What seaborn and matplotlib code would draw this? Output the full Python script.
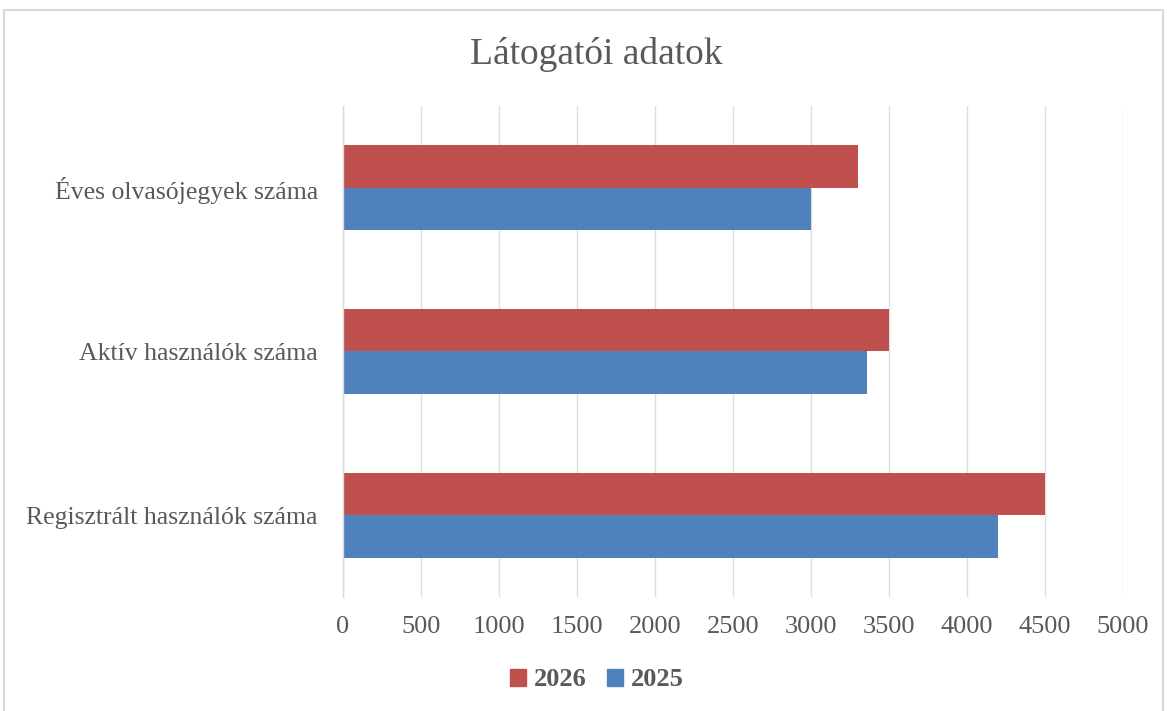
import pandas as pd
import matplotlib.pyplot as plt
import matplotlib.patches as mpatches
import seaborn as sns

kategoriak = ["Éves olvasójegyek száma", "Aktív használók száma", "Regisztrált használók száma"]
ertekek_2026 = [3300, 3500, 4500]
ertekek_2025 = [3000, 3360, 4200]
evek = ["2026", "2025"]
x_ticks = [0, 500, 1000, 1500, 2000, 2500, 3000, 3500, 4000, 4500, 5000]

df = pd.DataFrame({
    "Kategória": kategoriak * 2,
    "Év": ["2026"] * 3 + ["2025"] * 3,
    "Érték": ertekek_2026 + ertekek_2025,
})

sns.set_theme(style="white")
plt.rcParams["font.family"] = ["Liberation Serif", "DejaVu Serif"]
szurke = "#595959"

fig = plt.figure(figsize=(11.67, 7.11), dpi=100)
ax = fig.add_axes([343 / 1167, 1 - 597 / 711, (1123 - 343) / 1167, (597 - 106) / 711])

sns.barplot(data=df, y="Kategória", x="Érték", hue="Év", hue_order=evek,
            order=kategoriak, palette=["#C0504D", "#4F81BD"], width=0.52,
            saturation=1, linewidth=0, ax=ax, legend=False)

ax.set_xlim(0, 5000)
ax.set_xticks(x_ticks)
ax.set_xticklabels([str(t) for t in x_ticks], fontsize=19, color=szurke)
ax.tick_params(axis="y", labelsize=18.5, labelcolor=szurke, length=0, pad=18)
ax.tick_params(axis="x", length=0, pad=14)
ax.set_xlabel("")
ax.set_ylabel("")
ax.xaxis.grid(True, color="#dedede", linewidth=1.0)
ax.set_axisbelow(True)
for s in ["top", "right", "bottom"]:
    ax.spines[s].set_visible(False)
ax.spines["left"].set_color("#d9d9d9")
ax.spines["left"].set_linewidth(1.0)

fig.text(596 / 1167, 1 - 55 / 711, "Látogatói adatok", ha="center", va="center",
         fontsize=27, color=szurke)

handles = [mpatches.Patch(color="#C0504D", label="2026"),
           mpatches.Patch(color="#4F81BD", label="2025")]
fig.legend(handles=handles, loc="center", bbox_to_anchor=(597 / 1167, 1 - 680 / 711),
           ncol=2, frameon=False, handlelength=0.6, handleheight=0.6,
           handletextpad=0.3, columnspacing=0.8,
           prop={"size": 19, "weight": "bold"}, labelcolor=szurke)

fig.patches.append(mpatches.Rectangle((4 / 1167, -0.01), 1159 / 1167, 1 - 10 / 711 + 0.01,
                                      transform=fig.transFigure, fill=False,
                                      edgecolor="#d9d9d9", linewidth=1.5))

fig.savefig("out.png", dpi=100)
